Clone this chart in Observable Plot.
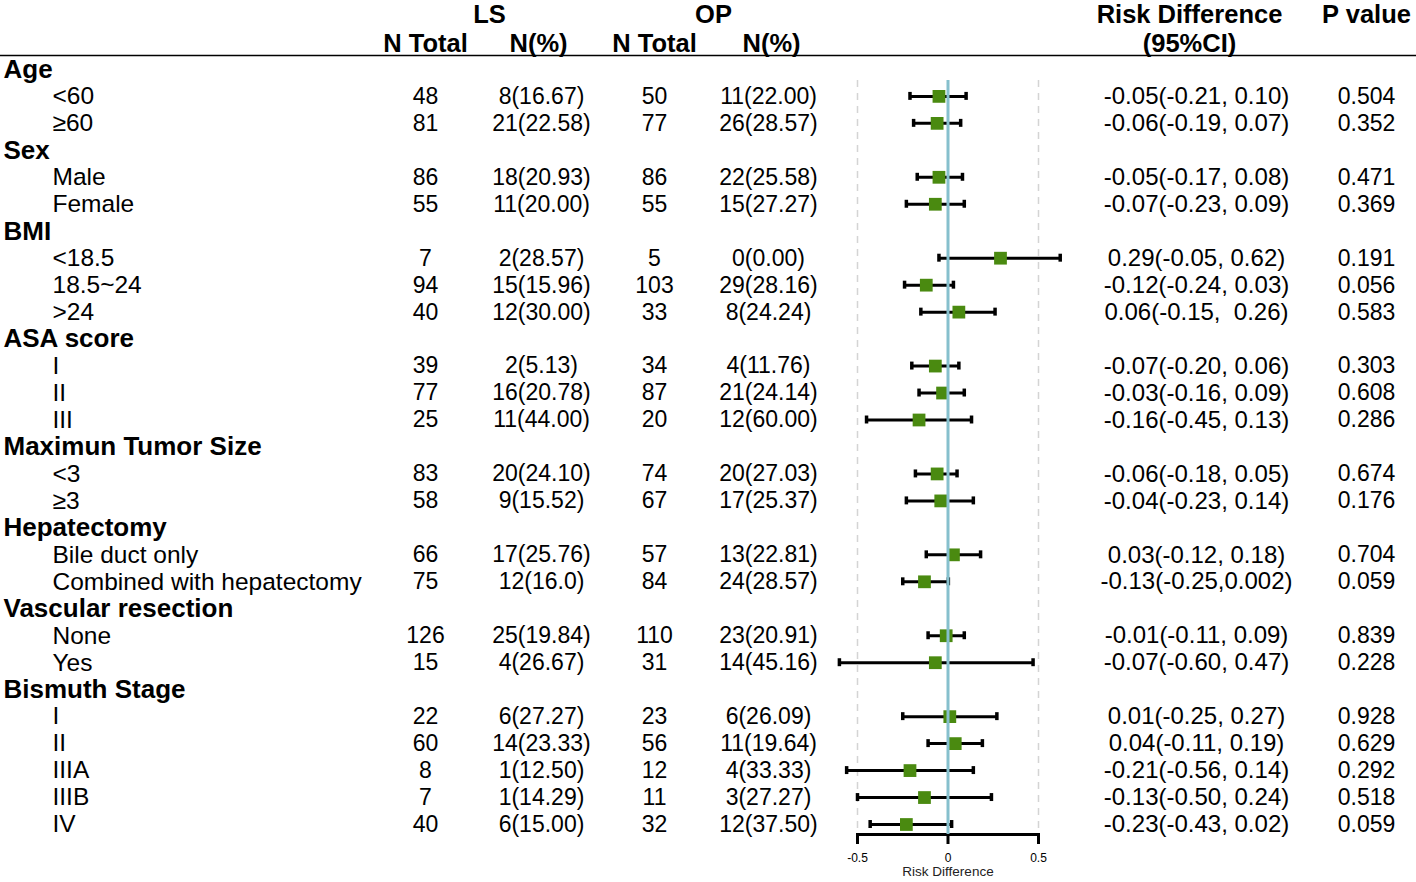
<!DOCTYPE html>
<html>
<head>
<meta charset="utf-8">
<script src="https://cdn.jsdelivr.net/npm/d3@7"></script>
<script src="https://cdn.jsdelivr.net/npm/@observablehq/plot@0.6"></script>
<style>
  html, body { margin: 0; padding: 0; background: #fff; }
  #chart { position: relative; width: 1416px; height: 882px; }
  #chart svg { position: absolute; left: 0; top: 0; background: transparent !important; }
  #chart text { white-space: pre; }
</style>
</head>
<body>
<div id="chart"></div>
<script>
// ---------- data ----------
const labels = ["Age","<60","≥60","Sex","Male","Female","BMI","<18.5","18.5~24",">24",
  "ASA score","I","II","III","Maximun Tumor Size","<3","≥3","Hepatectomy","Bile duct only",
  "Combined with hepatectomy","Vascular resection","None","Yes","Bismuth Stage","I","II","IIIA","IIIB","IV"];
const isGroup = [1,0,0,1,0,0,1,0,0,0,1,0,0,0,1,0,0,1,0,0,1,0,0,1,0,0,0,0,0];
const lsTotal = ["","48","81","","86","55","","7","94","40","","39","77","25","","83","58","","66","75","","126","15","","22","60","8","7","40"];
const lsPct = ["","8(16.67)","21(22.58)","","18(20.93)","11(20.00)","","2(28.57)","15(15.96)","12(30.00)","","2(5.13)","16(20.78)","11(44.00)","","20(24.10)","9(15.52)","","17(25.76)","12(16.0)","","25(19.84)","4(26.67)","","6(27.27)","14(23.33)","1(12.50)","1(14.29)","6(15.00)"];
const opTotal = ["","50","77","","86","55","","5","103","33","","34","87","20","","74","67","","57","84","","110","31","","23","56","12","11","32"];
const opPct = ["","11(22.00)","26(28.57)","","22(25.58)","15(27.27)","","0(0.00)","29(28.16)","8(24.24)","","4(11.76)","21(24.14)","12(60.00)","","20(27.03)","17(25.37)","","13(22.81)","24(28.57)","","23(20.91)","14(45.16)","","6(26.09)","11(19.64)","4(33.33)","3(27.27)","12(37.50)"];
const rd = [null,-0.05,-0.06,null,-0.05,-0.07,null,0.29,-0.12,0.06,null,-0.07,-0.03,-0.16,null,-0.06,-0.04,null,0.03,-0.13,null,-0.01,-0.07,null,0.01,0.04,-0.21,-0.13,-0.23];
const lo = [null,-0.21,-0.19,null,-0.17,-0.23,null,-0.05,-0.24,-0.15,null,-0.20,-0.16,-0.45,null,-0.18,-0.23,null,-0.12,-0.25,null,-0.11,-0.60,null,-0.25,-0.11,-0.56,-0.50,-0.43];
const hi = [null,0.10,0.07,null,0.08,0.09,null,0.62,0.03,0.26,null,0.06,0.09,0.13,null,0.05,0.14,null,0.18,0.002,null,0.09,0.47,null,0.27,0.19,0.14,0.24,0.02];
const rdText = ["","-0.05(-0.21, 0.10)","-0.06(-0.19, 0.07)","","-0.05(-0.17, 0.08)","-0.07(-0.23, 0.09)","","0.29(-0.05, 0.62)","-0.12(-0.24, 0.03)","0.06(-0.15,  0.26)","","-0.07(-0.20, 0.06)","-0.03(-0.16, 0.09)","-0.16(-0.45, 0.13)","","-0.06(-0.18, 0.05)","-0.04(-0.23, 0.14)","","0.03(-0.12, 0.18)","-0.13(-0.25,0.002)","","-0.01(-0.11, 0.09)","-0.07(-0.60, 0.47)","","0.01(-0.25, 0.27)","0.04(-0.11, 0.19)","-0.21(-0.56, 0.14)","-0.13(-0.50, 0.24)","-0.23(-0.43, 0.02)"];
const pValue = ["","0.504","0.352","","0.471","0.369","","0.191","0.056","0.583","","0.303","0.608","0.286","","0.674","0.176","","0.704","0.059","","0.839","0.228","","0.928","0.629","0.292","0.518","0.059"];
const xTicks = [-0.5, 0, 0.5];

// ---------- layout ----------
const W = 1416, H = 882;
const font = "'Liberation Sans', Arial, Helvetica, sans-serif";
const cols = {label: 3, indent: 52, lsTotal: 425, lsPct: 541, opTotal: 654, opPct: 768, rd: 1196, p: 1366};

const rows = labels.map((label, i) => ({
  id: i, label, group: !!isGroup[i],
  lsTotal: lsTotal[i], lsPct: lsPct[i], opTotal: opTotal[i], opPct: opPct[i],
  rd: rd[i], lo: lo[i], hi: hi[i], rdText: rdText[i], p: pValue[i]
}));
const yDomain = ["h1", "h2", ...rows.map(d => d.id)];
const yScale = {type: "band", domain: yDomain, range: [1.5, 837.5], padding: 0, axis: null};

const groups = rows.filter(d => d.group);
const items = rows.filter(d => !d.group);
const headers1 = [
  {x: cols.lsTotal + (cols.lsPct - cols.lsTotal) / 2 + 6, t: "LS"},
  {x: cols.opTotal + (cols.opPct - cols.opTotal) / 2 + 2, t: "OP"},
  {x: cols.rd - 7, t: "Risk Difference"},
  {x: cols.p, t: "P value"}
];
const headers2 = [
  {x: cols.lsTotal, t: "N Total"}, {x: cols.lsPct - 3, t: "N(%)"},
  {x: cols.opTotal, t: "N Total"}, {x: cols.opPct + 3, t: "N(%)"},
  {x: cols.rd - 7, t: "(95%CI)"}
];

// ---------- table (text) plot ----------
const numCol = (key) => Plot.text(items, {x: () => cols[key], y: "id", text: key, textAnchor: "middle", fontSize: 23});
const table = Plot.plot({
  width: W, height: H, margin: 0,
  style: {fontFamily: font, color: "#000", background: "transparent"},
  x: {domain: [0, W], range: [0, W], axis: null},
  y: yScale,
  marks: [
    Plot.text(headers1, {x: "x", y: () => "h1", text: "t", fontWeight: "bold", fontSize: 25.5, dy: -1}),
    Plot.text(headers2, {x: "x", y: () => "h2", text: "t", fontWeight: "bold", fontSize: 25.5, dy: 1}),
    Plot.ruleY(["h2"], {dy: 13, stroke: "#000", strokeWidth: 1.5}),
    Plot.text(groups, {x: () => cols.label, y: "id", text: "label", textAnchor: "start", fontWeight: "bold", fontSize: 26}),
    Plot.text(items, {x: () => cols.indent, y: "id", text: "label", textAnchor: "start", fontSize: 24.5}),
    numCol("lsTotal"), numCol("lsPct"), numCol("opTotal"), numCol("opPct"),
    Plot.text(items, {x: () => cols.rd, y: "id", text: "rdText", textAnchor: "middle", fontSize: 24}),
    Plot.text(items, {x: () => cols.p, y: "id", text: "p", textAnchor: "middle", fontSize: 23})
  ]
});

// ---------- forest plot ----------
const forest = Plot.plot({
  width: W, height: H,
  marginLeft: 857, marginRight: W - 1038, marginTop: 80, marginBottom: H - 834,
  style: {fontFamily: font, color: "#000", background: "transparent"},
  x: {domain: [-0.5, 0.5]},
  y: yScale,
  marks: [
    Plot.ruleX([-0.5, 0.5], {stroke: "#d4d4d4", strokeWidth: 1.5, strokeDasharray: "7,6"}),
    Plot.frame({anchor: "bottom", stroke: "#000", strokeWidth: 3}),
    Plot.axisX({ticks: xTicks, tickFormat: d => String(d), tickSize: 10, tickPadding: 9, strokeWidth: 3, fontSize: 12, label: null, color: "#000"}),
    Plot.text(["Risk Difference"], {frameAnchor: "bottom", dy: 41, fontSize: 13.5, fill: "#222"}),
    Plot.ruleY(items, {x1: "lo", x2: "hi", y: "id", stroke: "#000", strokeWidth: 3}),
    Plot.tickX(items, {x: "lo", y: "id", stroke: "#000", strokeWidth: 3.5, insetTop: 9.5, insetBottom: 9.5}),
    Plot.tickX(items, {x: "hi", y: "id", stroke: "#000", strokeWidth: 3.5, insetTop: 9.5, insetBottom: 9.5}),
    Plot.dot(items, {x: "rd", y: "id", symbol: "square", r: 7.2, fill: "#4a8a10", stroke: "none"}),
    Plot.ruleX([0], {stroke: "#86c0cd", strokeWidth: 3})
  ]
});

const chart = document.getElementById("chart");
chart.appendChild(table);
chart.appendChild(forest);
</script>
</body>
</html>
